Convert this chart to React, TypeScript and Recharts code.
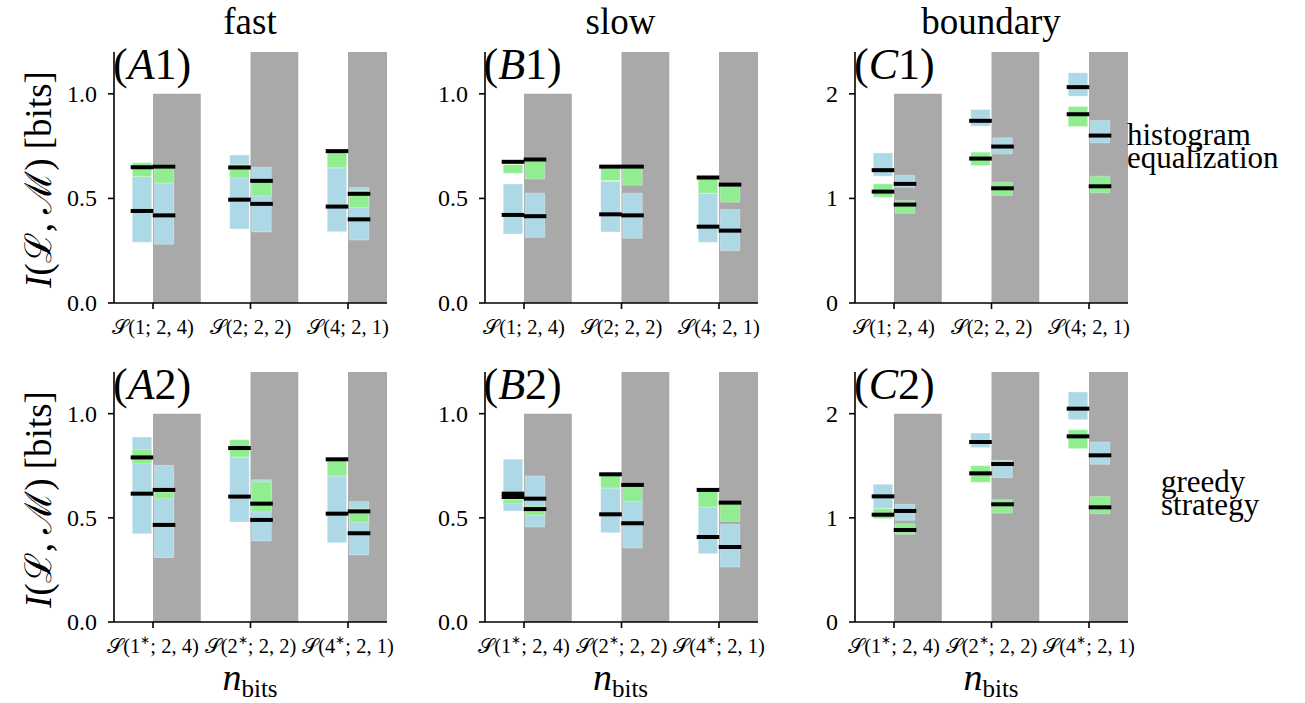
import type { CSSProperties, ReactNode } from 'react';
import { ComposedChart, XAxis, YAxis, Scatter, ReferenceArea } from 'recharts';

const FONT = "'Liberation Serif', 'Times New Roman', serif";

// ---- labels ----
const COLUMN_TITLES = ['fast', 'slow', 'boundary'];
const ROW_TITLES = [['histogram', 'equalization'], ['greedy', 'strategy']];
const PANEL_TAGS = [
  ['A', '1'], ['B', '1'], ['C', '1'],
  ['A', '2'], ['B', '2'], ['C', '2'],
];
const CATS_HIST = ['𝒮(1; 2, 4)', '𝒮(2; 2, 2)', '𝒮(4; 2, 1)'];
const CATS_GREEDY = ['𝒮(1*; 2, 4)', '𝒮(2*; 2, 2)', '𝒮(4*; 2, 1)'];
const TICKS_BITS = [0, 0.5, 1.0];
const TICKS_BOUNDARY = [0, 1, 2];

// grey bars: upper bound per category (clipped by the axis top)
const GREY_BITS = [1, 2, 4];
const GREY_BOUNDARY = [2, 4, 8];

// every series: [cat1 left, cat1 right, cat2 left, cat2 right, cat3 left, cat3 right]
// ---- fast / histogram equalization (A1)
const A1_BLUE: [number, number][] = [[0.29, 0.605], [0.281, 0.574], [0.354, 0.708], [0.34, 0.649], [0.341, 0.646], [0.301, 0.552]];
const A1_GREEN: [number, number][] = [[0.604, 0.671], [0.574, 0.662], [0.598, 0.662], [0.512, 0.585], [0.646, 0.724], [0.456, 0.537]];
const A1_GREEN_MED = [0.649, 0.652, 0.648, 0.584, 0.726, 0.522];
const A1_BLUE_MED = [0.44, 0.419, 0.494, 0.474, 0.461, 0.4];

// ---- slow / histogram equalization (B1)
const B1_BLUE: [number, number][] = [[0.33, 0.569], [0.314, 0.525], [0.34, 0.582], [0.309, 0.525], [0.29, 0.525], [0.25, 0.447]];
const B1_GREEN: [number, number][] = [[0.62, 0.662], [0.593, 0.678], [0.585, 0.649], [0.563, 0.649], [0.525, 0.598], [0.482, 0.558]];
const B1_GREEN_MED = [0.675, 0.686, 0.652, 0.652, 0.6, 0.566];
const B1_BLUE_MED = [0.421, 0.415, 0.424, 0.419, 0.365, 0.346];

// ---- boundary / histogram equalization (C1)
const C1_BLUE: [number, number][] = [[1.212, 1.435], [1.107, 1.219], [1.691, 1.85], [1.426, 1.579], [1.978, 2.201], [1.531, 1.745]];
const C1_GREEN: [number, number][] = [[1.011, 1.139], [0.858, 0.979], [1.314, 1.442], [1.027, 1.155], [1.687, 1.879], [1.053, 1.212]];
const C1_GREEN_MED = [1.065, 0.941, 1.381, 1.097, 1.805, 1.116];
const C1_BLUE_MED = [1.27, 1.139, 1.742, 1.496, 2.064, 1.601];

// ---- fast / greedy strategy (A2)
const A2_BLUE: [number, number][] = [[0.424, 0.888], [0.309, 0.752], [0.48, 0.792], [0.389, 0.683], [0.381, 0.701], [0.322, 0.578]];
const A2_GREEN: [number, number][] = [[0.76, 0.827], [0.592, 0.624], [0.792, 0.875], [0.528, 0.672], [0.701, 0.781], [0.477, 0.544]];
const A2_GREEN_MED = [0.79, 0.634, 0.835, 0.568, 0.781, 0.531];
const A2_BLUE_MED = [0.616, 0.466, 0.602, 0.49, 0.52, 0.426];

// ---- slow / greedy strategy (B2)
const B2_BLUE: [number, number][] = [[0.533, 0.781], [0.456, 0.701], [0.429, 0.643], [0.355, 0.578], [0.328, 0.552], [0.264, 0.469]];
const B2_GREEN: [number, number][] = [[0.568, 0.587], [0.512, 0.557], [0.643, 0.709], [0.578, 0.658], [0.552, 0.634], [0.483, 0.573]];
const B2_GREEN_MED = [0.6, 0.542, 0.709, 0.658, 0.634, 0.573];
const B2_BLUE_MED = [0.616, 0.592, 0.517, 0.474, 0.408, 0.36];

// ---- boundary / greedy strategy (C2)
const C2_BLUE: [number, number][] = [[1.088, 1.322], [0.976, 1.13], [1.674, 1.814], [1.386, 1.552], [1.942, 2.208], [1.514, 1.728]];
const C2_GREEN: [number, number][] = [[0.992, 1.088], [0.842, 0.944], [1.341, 1.501], [1.046, 1.174], [1.664, 1.846], [1.04, 1.206]];
const C2_GREEN_MED = [1.03, 0.883, 1.427, 1.13, 1.782, 1.101];
const C2_BLUE_MED = [1.206, 1.066, 1.728, 1.517, 2.048, 1.6];

// ---- layout ----
const COL_X = [114, 484.5, 855];
const ROW_TOP = [52, 372];
const ROW_H = [251, 250];
const PLOT_W = 273;
const Y_AXIS_W = 100;
const OFFSET = 0.113; // box centre distance from the category tick
const BOX_HALF = 0.1;
const GREY_W = 0.49;

const BLUE = '#add8e6';
const GREEN = '#90ee90';
const GREY = '#a9a9a9';

const catOf = (i: number) => Math.floor(i / 2) + (i % 2 === 0 ? -OFFSET : OFFSET);

// eslint-disable-next-line @typescript-eslint/no-explicit-any
function CatTick({ x, y, payload, labels }: any) {
  const label: string = labels[payload.value] ?? '';
  const [head, tail] = label.split('*');
  const font = { fontFamily: FONT };
  return (
    <text x={x} y={y + 25} textAnchor="middle" style={font} fontSize={20.5} fill="#000">
      {tail === undefined ? (
        head
      ) : (
        <>
          {head}
          <tspan dy={-9} fontSize={12} style={font} fill="#000">∗</tspan>
          <tspan dy={9} style={font} fill="#000">{tail}</tspan>
        </>
      )}
    </text>
  );
}

// eslint-disable-next-line @typescript-eslint/no-explicit-any
function NumTick({ x, y, payload, digits }: any) {
  return (
    <text x={x} y={y} dy={8} textAnchor="end" style={{ fontFamily: FONT }} fontSize={24} fill="#000">
      {Number(payload.value).toFixed(digits)}
    </text>
  );
}

// eslint-disable-next-line @typescript-eslint/no-explicit-any
function MedianMark({ cx, cy }: any) {
  return <line x1={cx - 11.3} x2={cx + 11.3} y1={cy} y2={cy} stroke="#000" strokeWidth={4} />;
}

interface PanelProps {
  col: number;
  row: number;
  blue: [number, number][];
  green: [number, number][];
  blueMed: number[];
  greenMed: number[];
}

function Panel({ col, row, blue, green, blueMed, greenMed }: PanelProps) {
  const boundary = col === 2;
  const yMax = boundary ? 2.4 : 1.2;
  const yTicks = boundary ? TICKS_BOUNDARY : TICKS_BITS;
  const grey = boundary ? GREY_BOUNDARY : GREY_BITS;
  const cats = row === 0 ? CATS_HIST : CATS_GREEDY;
  const plotH = ROW_H[row];
  const meds = [
    ...blueMed.map((v, i) => ({ x: catOf(i), y: v })),
    ...greenMed.map((v, i) => ({ x: catOf(i), y: v })),
  ];
  const axisStyle = { stroke: '#000', strokeWidth: 1.6 };

  return (
    <div style={{ position: 'absolute', left: COL_X[col] - Y_AXIS_W, top: ROW_TOP[row] - 10 }}>
      <ComposedChart
        width={Y_AXIS_W + PLOT_W + 20}
        height={10 + plotH + 50}
        margin={{ top: 10, right: 20, bottom: 0, left: 0 }}
      >
        <XAxis
          type="number"
          dataKey="x"
          domain={[-0.4, 2.4]}
          ticks={[0, 1, 2]}
          interval={0}
          allowDataOverflow
          height={50}
          tickSize={6}
          tickMargin={0}
          axisLine={axisStyle}
          tickLine={axisStyle}
          tick={<CatTick labels={cats} />}
        />
        <YAxis
          type="number"
          dataKey="y"
          domain={[0, yMax]}
          ticks={yTicks}
          interval={0}
          allowDataOverflow
          width={Y_AXIS_W}
          tickSize={6}
          tickMargin={11}
          axisLine={axisStyle}
          tickLine={axisStyle}
          tick={<NumTick digits={boundary ? 0 : 1} />}
        />
        {grey.map((g, i) => (
          <ReferenceArea
            key={`g${i}`}
            x1={i}
            x2={i + GREY_W}
            y1={0}
            y2={g}
            fill={GREY}
            fillOpacity={1}
            stroke="none"
            ifOverflow="hidden"
          />
        ))}
        {blue.map(([lo, hi], i) => (
          <ReferenceArea
            key={`b${i}`}
            x1={catOf(i) - BOX_HALF}
            x2={catOf(i) + BOX_HALF}
            y1={lo}
            y2={hi}
            fill={BLUE}
            fillOpacity={1}
            stroke="#ffffff"
            strokeOpacity={0.4}
            strokeWidth={0.8}
            ifOverflow="hidden"
          />
        ))}
        {green.map(([lo, hi], i) => (
          <ReferenceArea
            key={`gr${i}`}
            x1={catOf(i) - BOX_HALF}
            x2={catOf(i) + BOX_HALF}
            y1={lo}
            y2={hi}
            fill={GREEN}
            fillOpacity={1}
            stroke="#ffffff"
            strokeOpacity={0.4}
            strokeWidth={0.8}
            ifOverflow="hidden"
          />
        ))}
        <Scatter data={meds} shape={<MedianMark />} isAnimationActive={false} />
      </ComposedChart>
    </div>
  );
}

// HTML text whose first baseline sits at `baseline`
function Txt({
  x,
  baseline,
  size,
  align = 'left',
  lineHeight,
  children,
  extra,
}: {
  x: number;
  baseline: number;
  size: number;
  align?: 'left' | 'center';
  lineHeight?: number;
  children: ReactNode;
  extra?: CSSProperties;
}) {
  const lh = lineHeight ?? size;
  const top = baseline - ((lh - 1.107 * size) / 2 + 0.891 * size);
  const w = 400;
  return (
    <div
      style={{
        position: 'absolute',
        left: align === 'center' ? x - w / 2 : x,
        top,
        width: align === 'center' ? w : undefined,
        textAlign: align,
        fontFamily: FONT,
        fontSize: size,
        lineHeight: `${lh}px`,
        whiteSpace: 'nowrap',
        color: '#000',
        ...extra,
      }}
    >
      {children}
    </div>
  );
}

function Labels() {
  const yLabelSize = 37;
  return (
    <>
      {COLUMN_TITLES.map((t, c) => (
        <Txt key={t} x={COL_X[c] + 136} baseline={34} size={37} align="center">
          {t}
        </Txt>
      ))}
      {PANEL_TAGS.map(([letter, num], i) => {
        const c = i % 3;
        const r = Math.floor(i / 3);
        return (
          <Txt key={`tag${i}`} x={COL_X[c] - 1} baseline={ROW_TOP[r] + 28} size={44}>
            (<i>{letter}</i>
            {num})
          </Txt>
        );
      })}
      {ROW_TOP.map((t, r) => {
        const cy = t + ROW_H[r] / 2 + 2;
        const cx = 50 - 0.3375 * yLabelSize;
        const w = 320;
        return (
          <div
            key={`yl${r}`}
            style={{
              position: 'absolute',
              left: cx - w / 2,
              top: cy - yLabelSize / 2,
              width: w,
              height: yLabelSize,
              lineHeight: `${yLabelSize}px`,
              fontSize: yLabelSize,
              fontFamily: FONT,
              textAlign: 'center',
              whiteSpace: 'nowrap',
              transform: 'rotate(-90deg)',
            }}
          >
            <i>I</i>(ℒ, ℳ) [bits]
          </div>
        );
      })}
      {COL_X.map((x, c) => (
        <Txt key={`xl${c}`} x={x + 136} baseline={690} size={38} align="center">
          <i>n</i>
          <span style={{ fontSize: 25, position: 'relative', top: 7 }}>bits</span>
        </Txt>
      ))}
      <Txt x={1127} baseline={145} size={31} lineHeight={23}>
        {ROW_TITLES[0][0]}
        <br />
        {ROW_TITLES[0][1]}
      </Txt>
      <Txt x={1161} baseline={492} size={31} lineHeight={23}>
        {ROW_TITLES[1][0]}
        <br />
        {ROW_TITLES[1][1]}
      </Txt>
    </>
  );
}

export default function App() {
  return (
    <div style={{ position: 'absolute', left: 0, top: 0, width: 1305, height: 703, background: '#fff' }}>
      <Panel col={0} row={0} blue={A1_BLUE} green={A1_GREEN} blueMed={A1_BLUE_MED} greenMed={A1_GREEN_MED} />
      <Panel col={1} row={0} blue={B1_BLUE} green={B1_GREEN} blueMed={B1_BLUE_MED} greenMed={B1_GREEN_MED} />
      <Panel col={2} row={0} blue={C1_BLUE} green={C1_GREEN} blueMed={C1_BLUE_MED} greenMed={C1_GREEN_MED} />
      <Panel col={0} row={1} blue={A2_BLUE} green={A2_GREEN} blueMed={A2_BLUE_MED} greenMed={A2_GREEN_MED} />
      <Panel col={1} row={1} blue={B2_BLUE} green={B2_GREEN} blueMed={B2_BLUE_MED} greenMed={B2_GREEN_MED} />
      <Panel col={2} row={1} blue={C2_BLUE} green={C2_GREEN} blueMed={C2_BLUE_MED} greenMed={C2_GREEN_MED} />
      <Labels />
    </div>
  );
}
